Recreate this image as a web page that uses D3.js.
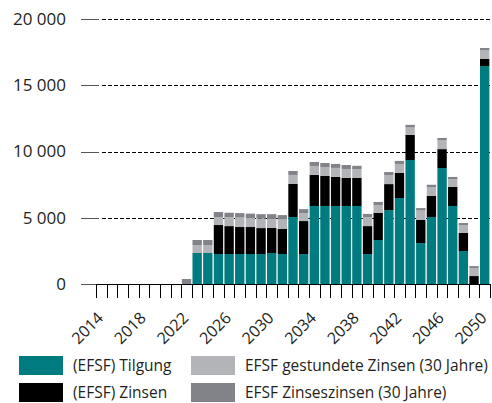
<!DOCTYPE html>
<html>
<head>
<meta charset="utf-8">
<script src="https://cdn.jsdelivr.net/npm/d3@7"></script>
<style>
  body { margin: 0; background: #fff; }
  text { font-family: "Open Sans", "Noto Sans", sans-serif; fill: #231f20; }
</style>
</head>
<body>
<svg></svg>
<script>
// Jahre 2014 - 2050
var years = d3.range(2014, 2051);

var tilgung = [0,0,0,0,0,0,0,0,0, 2340,2340,2260,2260,2260,2260,2260,2340,2260,5060,2260,
  5890,5890,5890,5890,5890,2260,3320,5580,6490,9360,3090,5060,8750,5890,2490,0,16450];
var zinsen = [0,0,0,0,0,0,0,0,0, 0,0,2190,2110,2040,2040,1960,1890,1890,2490,2490,
  2340,2260,2190,2110,2110,2110,2040,1960,1890,1890,1740,1580,1430,1430,1360,600,530];
var gestundet = [0,0,0,0,0,0,0,0,0, 600,600,600,680,720,680,720,680,720,680,600,
  680,680,680,680,680,680,600,680,680,560,720,680,680,600,600,600,680];
var zinseszinsen = [0,0,0,0,0,0,0,0,380, 380,380,380,330,330,330,330,360,330,300,300,
  300,300,300,300,240,240,230,230,230,200,180,170,160,160,150,150,150];

var yTicks = [0, 5000, 10000, 15000, 20000];
var xLabels = [2014, 2018, 2022, 2026, 2030, 2034, 2038, 2042, 2046, 2050];

var seriesKeys = ["tilgung", "zinsen", "gestundet", "zinseszinsen"];
var seriesNames = ["(EFSF) Tilgung", "(EFSF) Zinsen", "EFSF gestundete Zinsen (30 Jahre)", "EFSF Zinseszinsen (30 Jahre)"];
var colors = ["#007b80", "#000000", "#b2b4b7", "#818389"];

var svgWidth = 492, svgHeight = 403;
var plotLeft = 96, plotRight = 490, plotTop = 19, plotBottom = 284;

var rows = years.map(function(y, i) {
  return { year: y, tilgung: tilgung[i], zinsen: zinsen[i], gestundet: gestundet[i], zinseszinsen: zinseszinsen[i] };
});

var svg = d3.select('svg')
    .attr('width', svgWidth)
    .attr('height', svgHeight);

var x = d3.scaleBand()
    .domain(years)
    .range([plotLeft, plotRight])
    .paddingInner(0.12)
    .paddingOuter(0.06);

var y = d3.scaleLinear()
    .domain([0, 20000])
    .range([plotBottom, plotTop]);

// grid lines
var grid = svg.append('g');
grid.selectAll('line.solid')
    .data(yTicks)
    .enter()
    .append('line')
    .attr('x1', 81).attr('x2', 99)
    .attr('y1', function(d) { return Math.round(y(d)) + 0.5; })
    .attr('y2', function(d) { return Math.round(y(d)) + 0.5; })
    .attr('stroke', '#555')
    .attr('stroke-width', 1);

grid.selectAll('line.dash')
    .data(yTicks.filter(function(d) { return d > 0; }))
    .enter()
    .append('line')
    .attr('x1', 102).attr('x2', plotRight)
    .attr('y1', function(d) { return Math.round(y(d)) + 0.5; })
    .attr('y2', function(d) { return Math.round(y(d)) + 0.5; })
    .attr('stroke', '#000')
    .attr('stroke-dasharray', '4,2');

grid.selectAll('text')
    .data(yTicks)
    .enter()
    .append('text')
    .attr('x', 66)
    .attr('y', function(d) { return y(d); })
    .attr('dy', '0.35em')
    .attr('text-anchor', 'end')
    .style('font-size', '17px')
    .text(function(d) { return d3.format(',')(d).replace(/,/g, ' '); });

// stacked bars
var stack = d3.stack().keys(seriesKeys);
var layers = stack(rows);

svg.append('g')
    .selectAll('g')
    .data(layers)
    .enter()
    .append('g')
    .attr('fill', function(d, i) { return colors[i]; })
    .selectAll('rect')
    .data(function(d) { return d; })
    .enter()
    .append('rect')
    .attr('x', function(d) { return x(d.data.year); })
    .attr('width', x.bandwidth())
    .attr('y', function(d) { return y(d[1]); })
    .attr('height', function(d) { return y(d[0]) - y(d[1]); });

// x axis line and ticks
svg.append('line')
    .attr('x1', plotLeft).attr('x2', plotRight)
    .attr('y1', plotBottom + 0.5).attr('y2', plotBottom + 0.5)
    .attr('stroke', '#000');

var tickPos = years.map(function(d) { return x(d) - x.step() * x.paddingInner() / 2; });
tickPos.push(plotRight);

svg.append('g')
    .selectAll('line')
    .data(tickPos)
    .enter()
    .append('line')
    .attr('x1', function(d) { return Math.round(d) + 0.5; })
    .attr('x2', function(d) { return Math.round(d) + 0.5; })
    .attr('y1', plotBottom)
    .attr('y2', plotBottom + 14)
    .attr('stroke', '#000');

svg.append('g')
    .selectAll('text')
    .data(xLabels)
    .enter()
    .append('text')
    .attr('text-anchor', 'end')
    .style('font-size', '16px')
    .attr('transform', function(d) {
      return 'translate(' + (x(d) + x.bandwidth() / 2 + 3) + ',' + 319 + ') rotate(-45)';
    })
    .text(function(d) { return d; });

// legend
var legend = svg.append('g');
var lx = [19, 191], ly = [356, 383];
var items = legend.selectAll('g')
    .data(seriesNames)
    .enter()
    .append('g')
    .attr('transform', function(d, i) {
      return 'translate(' + lx[Math.floor(i / 2)] + ',' + ly[i % 2] + ')';
    });

items.append('rect')
    .attr('width', 44)
    .attr('height', 19)
    .attr('fill', function(d, i) { return colors[i]; });

items.append('text')
    .attr('x', 54)
    .attr('y', 10)
    .attr('dy', '0.35em')
    .style('font-size', '15.5px')
    .text(function(d) { return d; });
</script>
</body>
</html>
